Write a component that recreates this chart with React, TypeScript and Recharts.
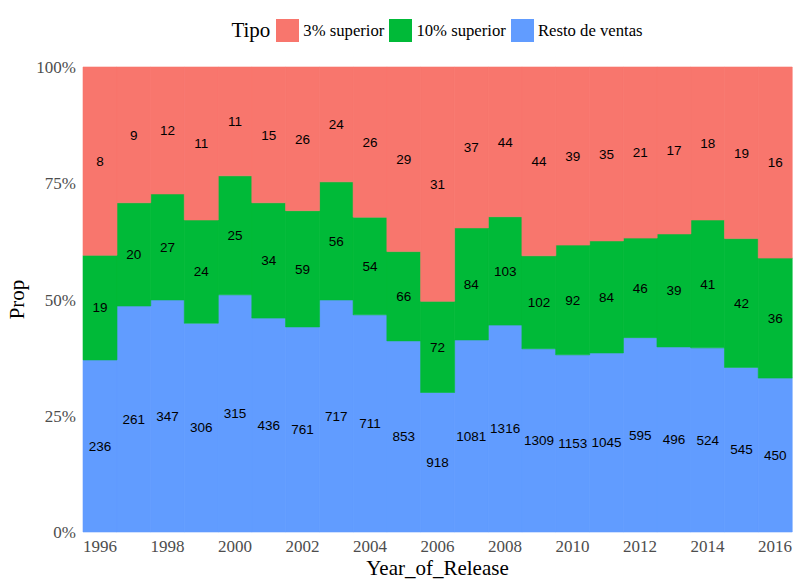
import React from "react";
import { BarChart, Bar, XAxis, YAxis, LabelList } from "recharts";

const years = [1996, 1997, 1998, 1999, 2000, 2001, 2002, 2003, 2004, 2005, 2006, 2007, 2008, 2009, 2010, 2011, 2012, 2013, 2014, 2015, 2016];

// Proportion of sales per group
const restoProp = [0.370, 0.486, 0.499, 0.449, 0.510, 0.460, 0.441, 0.499, 0.467, 0.411, 0.300, 0.413, 0.445, 0.394, 0.381, 0.385, 0.418, 0.398, 0.396, 0.354, 0.331];
const top10Prop = [0.225, 0.222, 0.228, 0.222, 0.256, 0.248, 0.250, 0.254, 0.210, 0.192, 0.196, 0.241, 0.233, 0.200, 0.236, 0.241, 0.214, 0.243, 0.275, 0.277, 0.258];
const top3Prop = [0.405, 0.292, 0.273, 0.329, 0.234, 0.292, 0.309, 0.247, 0.323, 0.397, 0.504, 0.346, 0.322, 0.406, 0.383, 0.374, 0.368, 0.359, 0.329, 0.369, 0.411];

// Counts shown as labels
const restoCount = [236, 261, 347, 306, 315, 436, 761, 717, 711, 853, 918, 1081, 1316, 1309, 1153, 1045, 595, 496, 524, 545, 450];
const top10Count = [19, 20, 27, 24, 25, 34, 59, 56, 54, 66, 72, 84, 103, 102, 92, 84, 46, 39, 41, 42, 36];
const top3Count = [8, 9, 12, 11, 11, 15, 26, 24, 26, 29, 31, 37, 44, 44, 39, 35, 21, 17, 18, 19, 16];

const yTicks = [0, 0.25, 0.5, 0.75, 1];

const legendItems = [
  { name: "3% superior", color: "#F8766D" },
  { name: "10% superior", color: "#00BA38" },
  { name: "Resto de ventas", color: "#619CFF" },
];

const data = years.map((y, i) => ({
  year: y,
  resto: restoProp[i],
  top10: top10Prop[i],
  top3: top3Prop[i],
  nResto: restoCount[i],
  nTop10: top10Count[i],
  nTop3: top3Count[i],
}));

const SERIF = "'Liberation Serif', 'Times New Roman', serif";
const SANS = "'Liberation Sans', Arial, sans-serif";

const labelStyle = { fill: "#000000", fontSize: 13.5, fontFamily: SANS };

const YTitle = (props: any) => {
  const vb = props.viewBox || { x: 0, y: 0, width: 0, height: 0 };
  const cx = 17;
  const cy = vb.y + vb.height / 2;
  return (
    <text
      x={cx}
      y={cy}
      transform={`rotate(-90, ${cx}, ${cy})`}
      textAnchor="middle"
      dominantBaseline="central"
      fontFamily={SERIF}
      fontSize={21}
      fill="#000000"
    >
      Prop
    </text>
  );
};

const XTitle = (props: any) => {
  const vb = props.viewBox || { x: 0, y: 0, width: 0, height: 0 };
  return (
    <text
      x={vb.x + vb.width / 2}
      y={575}
      textAnchor="middle"
      fontFamily={SERIF}
      fontSize={21}
      fill="#000000"
    >
      Year_of_Release
    </text>
  );
};

export default function App() {
  return (
    <div style={{ position: "absolute", left: 0, top: 0, width: 800, height: 586, background: "#ffffff" }}>
      <div
        style={{
          position: "absolute",
          left: 83,
          width: 708,
          top: 18,
          height: 25,
          display: "flex",
          alignItems: "center",
          justifyContent: "center",
          fontFamily: SERIF,
          color: "#000000",
        }}
      >
        <span style={{ fontSize: 21, marginRight: 6 }}>Tipo</span>
        {legendItems.map((it, i) => (
          <span key={it.name} style={{ display: "flex", alignItems: "center", marginRight: i < legendItems.length - 1 ? 5 : 0 }}>
            <span style={{ display: "inline-block", width: 23, height: 23, background: it.color, marginRight: 4 }} />
            <span style={{ fontSize: 16.7 }}>{it.name}</span>
          </span>
        ))}
      </div>
      <BarChart
        width={800}
        height={586}
        data={data}
        margin={{ top: 67, right: 8, bottom: 0, left: 0 }}
        barCategoryGap={0}
        barGap={0}
      >
        <XAxis
          dataKey="year"
          type="category"
          interval={1}
          height={54}
          axisLine={false}
          tickLine={false}
          tickSize={0}
          tickMargin={8}
          tick={{ fill: "#4D4D4D", fontSize: 17, fontFamily: SERIF }}
          label={<XTitle />}
        />
        <YAxis
          type="number"
          domain={[0, 1]}
          ticks={yTicks}
          width={83}
          axisLine={false}
          tickLine={false}
          tickSize={0}
          tickMargin={7}
          tickFormatter={(v: number) => `${Math.round(v * 100)}%`}
          tick={{ fill: "#4D4D4D", fontSize: 17, fontFamily: SERIF }}
          label={<YTitle />}
        />
        <Bar dataKey="resto" stackId="a" fill="#619CFF" stroke="#619CFF" strokeWidth={0.6} isAnimationActive={false}>
          <LabelList dataKey="nResto" position="center" style={labelStyle} />
        </Bar>
        <Bar dataKey="top10" stackId="a" fill="#00BA38" stroke="#00BA38" strokeWidth={0.6} isAnimationActive={false}>
          <LabelList dataKey="nTop10" position="center" style={labelStyle} />
        </Bar>
        <Bar dataKey="top3" stackId="a" fill="#F8766D" stroke="#F8766D" strokeWidth={0.6} isAnimationActive={false}>
          <LabelList dataKey="nTop3" position="center" style={labelStyle} />
        </Bar>
      </BarChart>
    </div>
  );
}
